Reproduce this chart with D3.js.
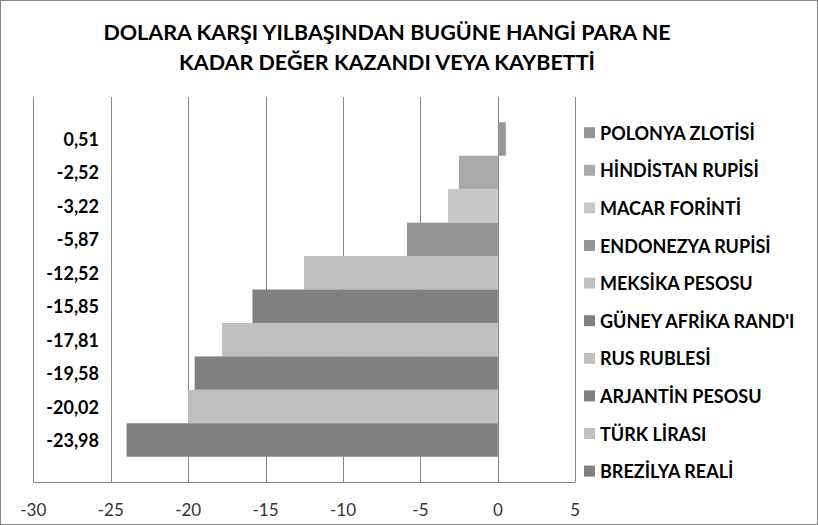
<!DOCTYPE html>
<html>
<head>
<meta charset="utf-8">
<script src="https://cdn.jsdelivr.net/npm/d3@7"></script>
<style>
  body { margin: 0; background: #fff; }
  text { font-family: Lato, "Open Sans", sans-serif; }
</style>
</head>
<body>
<div id="chart"></div>
<script>
// Data
const currencies = ["POLONYA ZLOTİSİ", "HİNDİSTAN RUPİSİ", "MACAR FORİNTİ", "ENDONEZYA RUPİSİ",
    "MEKSİKA PESOSU", "GÜNEY AFRİKA RAND'I", "RUS RUBLESİ", "ARJANTİN PESOSU", "TÜRK LİRASI", "BREZİLYA REALİ"];
const changes = [0.51, -2.52, -3.22, -5.87, -12.52, -15.85, -17.81, -19.58, -20.02, -23.98];
const barColors = ["#969696", "#aaaaaa", "#c8c8c8", "#969696", "#c0c0c0", "#808080", "#c0c0c0", "#808080", "#c0c0c0", "#808080"];
const xTicks = [-30, -25, -20, -15, -10, -5, 0, 5];
const titleLines = ["DOLARA KARŞI YILBAŞINDAN BUGÜNE HANGİ PARA NE", "KADAR DEĞER KAZANDI VEYA KAYBETTİ"];

let width = 818, height = 525;
let plot = { left: 33.3, right: 575.3, top: 97, bottom: 482 };

let svg = d3.select("#chart")
    .append("svg")
    .attr("width", width)
    .attr("height", height);

// outer border
svg.append("rect")
    .attr("x", 0.5).attr("y", 0.5)
    .attr("width", width - 1).attr("height", height - 1)
    .attr("fill", "white")
    .attr("stroke", "#868686");

// Title
svg.selectAll(".title")
    .data(titleLines)
    .enter().append("text")
    .attr("x", 387)
    .attr("y", (d, i) => 40 + i * 30)
    .attr("text-anchor", "middle")
    .attr("font-size", "21.5px")
    .attr("font-weight", "bold")
    .attr("fill", "black")
    .text(d => d);

let x = d3.scaleLinear()
    .domain([-30, 5])
    .range([plot.left, plot.right]);

let y = d3.scaleBand()
    .domain(currencies)
    .range([plot.top, plot.bottom])
    .paddingInner(0)
    .paddingOuter(0.756);

// vertical gridlines
svg.selectAll(".grid")
    .data(xTicks)
    .enter().append("line")
    .attr("x1", d => Math.round(x(d)) + 0.5)
    .attr("x2", d => Math.round(x(d)) + 0.5)
    .attr("y1", plot.top)
    .attr("y2", plot.bottom)
    .attr("stroke", "#868686")
    .attr("stroke-width", 1);

// bars
svg.selectAll(".bar")
    .data(changes)
    .enter().append("rect")
    .attr("x", d => x(Math.min(0, d)))
    .attr("y", (d, i) => y(currencies[i]))
    .attr("width", d => Math.abs(x(d) - x(0)))
    .attr("height", y.bandwidth())
    .attr("fill", (d, i) => barColors[i]);

// bottom axis line
svg.append("line")
    .attr("x1", plot.left).attr("x2", plot.right)
    .attr("y1", plot.bottom + 0.5).attr("y2", plot.bottom + 0.5)
    .attr("stroke", "#868686");

// tick labels
svg.selectAll(".tick-label")
    .data(xTicks)
    .enter().append("text")
    .attr("x", d => x(d))
    .attr("y", 516)
    .attr("text-anchor", "middle")
    .attr("font-size", "17px")
    .attr("fill", "#333")
    .text(d => d);

// value labels on the left
svg.selectAll(".value-label")
    .data(changes)
    .enter().append("text")
    .attr("x", 99)
    .attr("y", (d, i) => y(currencies[i]) + y.bandwidth() / 2 + 7)
    .attr("text-anchor", "end")
    .attr("font-size", "18px")
    .attr("font-weight", "bold")
    .attr("fill", "black")
    .text(d => d.toFixed(2).replace(".", ","));

// legend
let legendStep = 37.6;
let legend = svg.selectAll(".legend")
    .data(currencies)
    .enter().append("g")
    .attr("transform", (d, i) => `translate(584,${132.7 + i * legendStep})`);

legend.append("rect")
    .attr("x", 0).attr("y", -5.5)
    .attr("width", 11).attr("height", 11)
    .attr("fill", (d, i) => barColors[i]);

legend.append("text")
    .attr("x", 16)
    .attr("y", 7)
    .attr("font-size", "18px")
    .attr("font-weight", "bold")
    .attr("fill", "black")
    .text(d => d);
</script>
</body>
</html>
